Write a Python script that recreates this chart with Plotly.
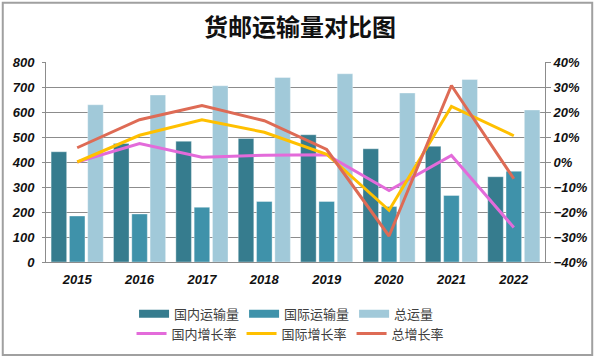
import plotly.graph_objects as go

years = ["2015", "2016", "2017", "2018", "2019", "2020", "2021", "2022"]
domestic = [441, 474, 483, 494, 509, 453, 463, 341]
international = [184, 192, 219, 242, 242, 222, 266, 363]
total = [629, 668, 705, 738, 753, 676, 730, 608]
dom_growth = [0.0, 7.4, 1.9, 2.7, 2.9, -11.4, 2.6, -26.2]
intl_growth = [0.0, 10.7, 16.9, 11.9, 3.1, -19.3, 22.2, 10.5]
total_growth = [5.7, 16.9, 22.6, 16.5, 5.0, -29.6, 30.6, -6.7]

bar_names = ["国内运输量", "国际运输量", "总运量"]
bar_colors = ["#367C8E", "#3F92AA", "#A1C9D9"]
line_names = ["国内增长率", "国际增长率", "总增长率"]
line_colors = ["#E36BDA", "#FFC000", "#DE6B55"]

fig = go.Figure()
for name, vals, col in zip(bar_names, [domestic, international, total], bar_colors):
    fig.add_trace(go.Bar(x=years, y=vals, name=name, marker=dict(color=col, line=dict(width=0.6, color="rgba(255,255,255,0.6)")),
                         showlegend=False, yaxis="y"))
for name, col in zip(bar_names, bar_colors):
    fig.add_trace(go.Scatter(x=[None], y=[None], mode="lines", name=name,
                             line=dict(color=col, width=8), legend="legend", yaxis="y"))
for name, vals, col in zip(line_names, [dom_growth, intl_growth, total_growth], line_colors):
    fig.add_trace(go.Scatter(x=years, y=vals, mode="lines", name=name,
                             line=dict(color=col, width=3), yaxis="y2", legend="legend2"))

tickfont = dict(family="Liberation Sans, Arial", size=13, color="#111", weight="bold", style="italic")
legfont = dict(family="Noto Sans CJK SC", size=13, color="#404040")

W, H = 600, 361
L, R, T, B = 46, 52, 62, 98
pw, ph = W - L - R, H - T - B

def px(x):
    return (x - L) / pw

def py(y):
    return (H - B - y) / ph

fig.update_layout(
    width=W, height=H,
    margin=dict(l=L, r=R, t=T, b=B),
    paper_bgcolor="white", plot_bgcolor="white",
    title=dict(text="货邮运输量对比图", x=0.5, xanchor="center", y=1 - 28 / H, yanchor="middle",
               font=dict(family="Noto Sans CJK SC", size=24, color="#111", weight="bold")),
    barmode="group", bargap=0.12, bargroupgap=0.15,
    xaxis=dict(showgrid=False, showline=True, linecolor="#8c8c8c", linewidth=1, tickfont=tickfont,
               ticks="", ticklabelstandoff=5),
    yaxis=dict(range=[0, 800], dtick=100, showgrid=True, gridcolor="#8c8c8c", gridwidth=1,
               showline=True, linecolor="#8c8c8c", tickfont=tickfont, zeroline=False,
               ticks="outside", ticklen=3, tickcolor="#8c8c8c", ticklabelstandoff=5),
    yaxis2=dict(range=[-40, 40], dtick=10, overlaying="y", side="right", showgrid=False,
                showline=True, linecolor="#8c8c8c", ticks="outside", ticklen=5, tickcolor="#8c8c8c",
                ticksuffix="%", tickfont=tickfont, zeroline=False),
    legend=dict(orientation="h", x=px(288), xanchor="center", y=py(315), yanchor="middle",
                font=legfont, bgcolor="rgba(0,0,0,0)", itemwidth=30),
    legend2=dict(orientation="h", x=px(292), xanchor="center", y=py(335), yanchor="middle",
                 font=legfont, bgcolor="rgba(0,0,0,0)", itemwidth=30),
    shapes=[dict(type="rect", xref="paper", yref="paper",
                 x0=px(2.5), x1=px(595.5), y0=py(356.5), y1=py(2.5),
                 line=dict(color="#a0a0a0", width=2), fillcolor="rgba(0,0,0,0)", layer="below")],
)

fig.write_html("out.html", config={"displayModeBar": False},
               post_script="document.body.style.margin='0';document.body.style.overflow='hidden';")
